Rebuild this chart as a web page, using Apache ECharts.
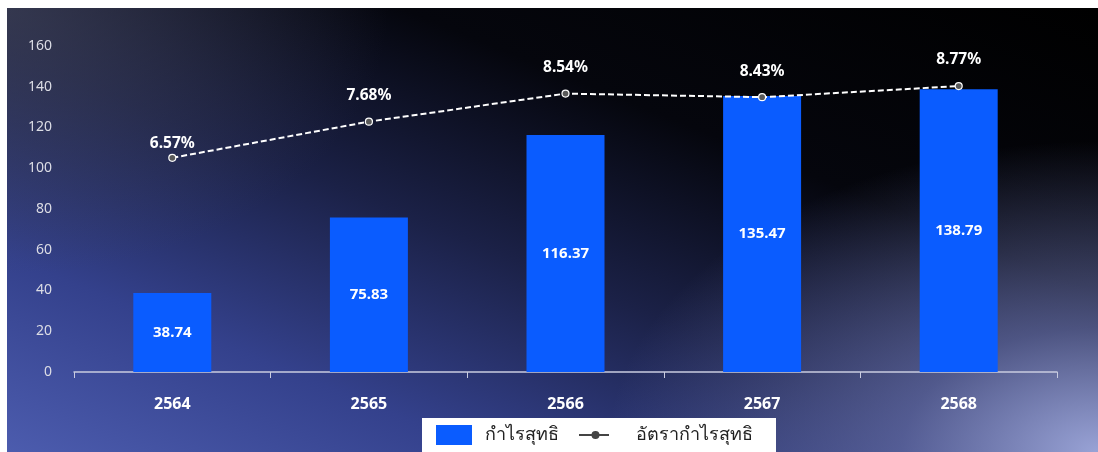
<!DOCTYPE html>
<html>
<head>
<meta charset="utf-8">
<script src="https://cdn.jsdelivr.net/npm/echarts@6/dist/echarts.min.js"></script>
<style>
html,body{margin:0;padding:0;background:#fff;width:1098px;height:452px;overflow:hidden;}
#bg{position:absolute;left:7px;top:8px;width:1091px;height:444px;
background:
 radial-gradient(ellipse 45% 70% at 100% 100%, rgba(160,170,222,0.95) 0%, rgba(120,130,195,0.6) 40%, rgba(90,100,170,0) 100%),
 radial-gradient(ellipse 35% 60% at 0% 0%, rgba(72,74,92,0.6) 0%, rgba(40,44,70,0) 100%),
 linear-gradient(to top right, #4c5cae 0%, #34418c 22%, #1b2147 45%, #05060d 68%, #000 100%);}
#chart{position:absolute;left:0;top:0;width:1098px;height:452px;}
</style>
</head>
<body>
<div id="bg"></div>
<div id="chart"></div>
<script>
const categories = ['2564', '2565', '2566', '2567', '2568'];
const netProfit = [38.74, 75.83, 116.37, 135.47, 138.79];
const netMargin = [6.57, 7.68, 8.54, 8.43, 8.77];
const yTicks = [0, 20, 40, 60, 80, 100, 120, 140, 160];
const seriesNames = ['กำไรสุทธิ', 'อัตรากำไรสุทธิ'];

const chart = echarts.init(document.getElementById('chart'), null, {renderer: 'canvas'});
const font = '"Noto Sans", "DejaVu Sans", sans-serif';
const lineIcon = 'path://M0,0L0.01,0L0,0.01Z M36,20L35.99,20L36,19.99Z M0,9.1L13,9.1L13,10.9L0,10.9Z M20,9.1L30,9.1L30,10.9L20,10.9Z M12.5,10A4,4 0 1,1 20.5,10A4,4 0 1,1 12.5,10Z';
chart.setOption({
  backgroundColor: 'transparent',
  animation: false,
  textStyle: {fontFamily: font},
  grid: {left: 74, right: 41, top: 46, bottom: 80},
  legend: {
    left: 422, top: 418,
    backgroundColor: '#ffffff',
    padding: [7, 23, 10, 14],
    itemWidth: 36, itemHeight: 20, itemGap: 20,
    textStyle: {color: '#222', fontSize: 18, fontFamily: font, padding: [0, 0, 0, 8]},
    data: [
      {name: seriesNames[0], icon: 'rect', itemStyle: {color: '#0a5cff', borderWidth: 0}},
      {name: seriesNames[1], icon: lineIcon,
        itemStyle: {color: '#444', borderColor: '#444', borderWidth: 0},
        textStyle: {padding: [0, 0, 0, 16]}}
    ]
  },
  xAxis: {
    type: 'category',
    data: categories,
    axisLine: {lineStyle: {color: '#c9cce0', width: 1.5}},
    axisTick: {show: true, length: 6, lineStyle: {color: '#c9cce0'}},
    axisLabel: {color: '#ffffff', fontSize: 16, fontWeight: 'bold', margin: 24}
  },
  yAxis: [{
    type: 'value', min: yTicks[0], max: yTicks[yTicks.length - 1], interval: 20,
    axisLine: {show: false}, axisTick: {show: false}, splitLine: {show: false},
    axisLabel: {color: '#dcdde5', fontSize: 14, margin: 22}
  }, {
    type: 'value', min: 0, max: 10, show: false, splitLine: {show: false}
  }],
  series: [{
    name: seriesNames[0],
    type: 'bar',
    data: netProfit,
    barWidth: 78,
    itemStyle: {color: '#0a5cff'},
    label: {show: true, position: 'inside', color: '#ffffff', fontSize: 15, fontWeight: 'bold',
      formatter: p => p.value.toFixed(2)}
  }, {
    name: seriesNames[1],
    type: 'line',
    yAxisIndex: 1,
    data: netMargin.map((v, i) => i === 0 ? {value: v, label: {distance: 2}} : v),
    symbol: 'circle', symbolSize: 7,
    itemStyle: {color: '#5a5a5a', borderColor: '#ffffff', borderWidth: 1.2},
    lineStyle: {color: '#ffffff', width: 2, type: [6, 3]},
    label: {show: true, position: 'top', distance: 14, color: '#ffffff', fontSize: 15.5, fontWeight: 'bold',
      formatter: p => p.value.toFixed(2) + '%'}
  }]
});
</script>
</body>
</html>
